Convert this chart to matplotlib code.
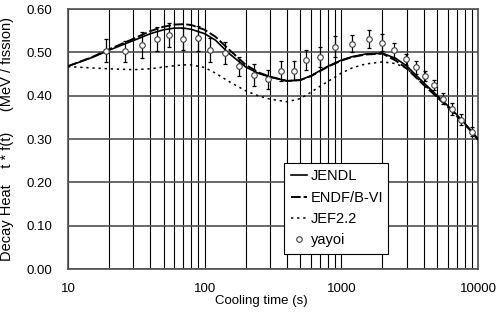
import matplotlib.pyplot as plt
from matplotlib.ticker import FixedLocator, FixedFormatter, NullFormatter

plt.rcParams['font.family'] = ['Liberation Sans', 'DejaVu Sans']

# cooling time grid used for the calculated curves (s)
t_calc = [10, 15, 20, 30, 40, 50, 60, 70, 80, 100, 120, 150, 200, 250, 300,
          400, 500, 600, 700, 800, 1000, 1200, 1500, 2000, 2500, 3000, 4000,
          5000, 6000, 7000, 8000, 9000, 10000]

# decay heat t*f(t) (MeV/fission)
jendl = [0.468, 0.488, 0.505, 0.527, 0.543, 0.552, 0.556, 0.556, 0.553, 0.543,
         0.528, 0.498, 0.466, 0.451, 0.443, 0.434, 0.436, 0.446, 0.458, 0.468,
         0.482, 0.490, 0.496, 0.498, 0.486, 0.469, 0.430, 0.401, 0.377, 0.356,
         0.336, 0.318, 0.300]
endf = [0.468, 0.489, 0.507, 0.531, 0.549, 0.559, 0.564, 0.565, 0.563, 0.552,
        0.536, 0.507, 0.471, 0.453, 0.444, 0.434, 0.436, 0.445, 0.457, 0.467,
        0.481, 0.489, 0.495, 0.497, 0.481, 0.463, 0.425, 0.397, 0.374, 0.353,
        0.334, 0.316, 0.298]
jef = [0.467, 0.464, 0.462, 0.460, 0.462, 0.466, 0.469, 0.471, 0.471, 0.465,
       0.452, 0.433, 0.411, 0.399, 0.392, 0.386, 0.393, 0.408, 0.422, 0.433,
       0.452, 0.464, 0.473, 0.478, 0.474, 0.463, 0.427, 0.399, 0.376, 0.355,
       0.335, 0.317, 0.299]

# yayoi measurements
t_exp = [19, 26, 35, 45, 55, 69, 90, 110, 140, 178, 229, 290, 360, 450, 551,
         697, 902, 1200, 1600, 2000, 2440, 2950, 3500, 4110, 4780, 5560, 6480,
         7500, 8980]
yayoi = [0.504, 0.502, 0.518, 0.531, 0.540, 0.531, 0.532, 0.505, 0.498, 0.468,
         0.448, 0.438, 0.457, 0.458, 0.483, 0.489, 0.513, 0.520, 0.531, 0.522,
         0.505, 0.484, 0.465, 0.446, 0.424, 0.393, 0.369, 0.345, 0.317]
yayoi_err = [0.026, 0.024, 0.030, 0.027, 0.028, 0.025, 0.029, 0.028, 0.025, 0.022,
             0.025, 0.022, 0.023, 0.023, 0.023, 0.023, 0.024, 0.020, 0.020, 0.020,
             0.017, 0.013, 0.014, 0.012, 0.012, 0.012, 0.013, 0.012, 0.010]

x_ticks = [10, 100, 1000, 10000]
y_ticks = [0.0, 0.1, 0.2, 0.3, 0.4, 0.5, 0.6]

fig = plt.figure(figsize=(4.97, 3.21), dpi=100)
ax = fig.add_axes([68 / 497, 52 / 321, 410 / 497, 260 / 321])

ax.plot(t_calc, jendl, color='black', lw=1.2, label='JENDL', zorder=3)
ax.plot(t_calc, endf, color='black', lw=1.4, ls=(0, (5, 1.5)), label='ENDF/B-VI', zorder=3)
ax.plot(t_calc, jef, color='black', lw=1.1, ls=(0, (1.5, 2.5)), label='JEF2.2', zorder=3)
ax.errorbar(t_exp, yayoi, yerr=yayoi_err, fmt='none', ecolor='black', elinewidth=0.9,
            capsize=1.6, capthick=0.9, zorder=4)
ax.plot(t_exp, yayoi, ls='none', marker='o', ms=4, mfc='white', mec='#404040', mew=0.8,
        label='yayoi', zorder=5)

ax.set_xscale('log')
ax.set_xlim(10, 10000)
ax.set_ylim(0, 0.6)
ax.xaxis.set_major_locator(FixedLocator(x_ticks))
ax.xaxis.set_major_formatter(FixedFormatter([str(v) for v in x_ticks]))
ax.xaxis.set_minor_formatter(NullFormatter())
ax.set_yticks(y_ticks)
ax.set_yticklabels(['%.2f' % v for v in y_ticks])

ax.grid(True, which='both', axis='x', color='black', lw=0.8)
ax.grid(True, which='major', axis='y', color='#505050', lw=1.2)
ax.tick_params(which='both', length=0, labelsize=9.5)
ax.tick_params(axis='y', pad=11)
ax.tick_params(axis='x', pad=10)
for s in ax.spines.values():
    s.set_color('#505050')
    s.set_linewidth(1.2)

ax.set_xlabel('Cooling time (s)', fontsize=9.5)
ax.xaxis.set_label_coords(0.472, -0.10)
ax.set_ylabel('Decay Heat    t * f(t)     (MeV / fission)', fontsize=10.5)
ax.yaxis.set_label_coords(-0.132, 0.5)

leg = ax.legend(loc='upper left', bbox_to_anchor=(0.509, 0.436, 0.29, 0.0), mode='expand',
                fontsize=10.5, handlelength=1.1, handletextpad=0.3, labelspacing=0.5,
                borderpad=0.45, fancybox=False, framealpha=1, edgecolor='black')
leg.get_frame().set_linewidth(0.8)

fig.savefig('out.png', dpi=100)
